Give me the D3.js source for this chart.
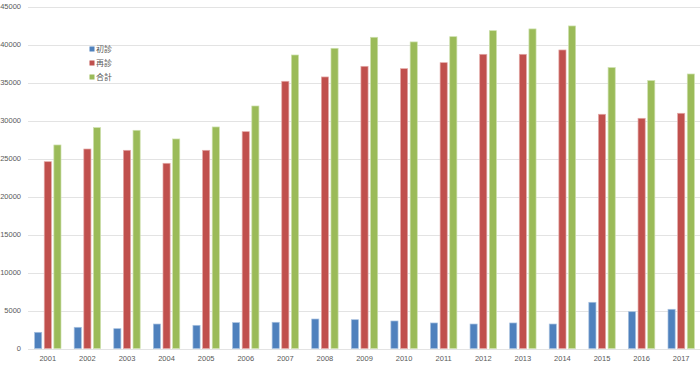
<!DOCTYPE html>
<html>
<head>
<meta charset="utf-8">
<script src="https://cdn.jsdelivr.net/npm/d3@7"></script>
<style>
html,body{margin:0;padding:0;background:#fff;}
svg{display:block;}
</style>
</head>
<body>
<svg id="chart" width="700" height="365"></svg>
<script>
const years = ["2001","2002","2003","2004","2005","2006","2007","2008","2009","2010","2011","2012","2013","2014","2015","2016","2017"];
const seriesNames = ["初診","再診","合計"];
const firstVisit = [2130,2790,2610,3220,3050,3400,3450,3880,3790,3620,3360,3220,3360,3220,6080,4840,5160];
const revisit = [24580,26250,26080,24370,26080,28530,35160,35730,37130,36820,37610,38710,38710,39280,30820,30290,30950];
const total = [26780,29060,28710,27570,29150,31910,38620,39500,40950,40340,41030,41820,42050,42440,36960,35250,36120];
const yTicks = [0,5000,10000,15000,20000,25000,30000,35000,40000,45000];
const colors = ["#4f81bd","#c0504d","#9bbb59"];
const strokes = ["#a7c0df","#e3a9a7","#cde0ad"];

const svg = d3.select("#chart");
const x = d3.scaleBand().domain(years).range([28, 701]).padding(0);
const y = d3.scaleLinear().domain([0, 45000]).range([348.5, 6.5]);
const inner = d3.scaleBand().domain(seriesNames).range([-13.2, 13.2]).paddingInner(0.26).paddingOuter(0);

// gridlines
svg.append("g").selectAll("line").data(yTicks).join("line")
  .attr("x1", 28).attr("x2", 701)
  .attr("y1", d => Math.round(y(d)) + 0.5).attr("y2", d => Math.round(y(d)) + 0.5)
  .attr("stroke", "#e3e3e3").attr("stroke-width", 1);

// y axis labels
svg.append("g").selectAll("text").data(yTicks).join("text")
  .attr("x", 21).attr("y", d => y(d))
  .attr("dy", "0.35em")
  .attr("text-anchor", "end")
  .attr("font-family", "'Liberation Sans', Arial, sans-serif")
  .attr("font-size", 7.5)
  .attr("fill", "#595959")
  .text(d => d);

// x labels
svg.append("g").selectAll("text").data(years).join("text")
  .attr("x", d => x(d) + x.bandwidth() / 2).attr("y", 361)
  .attr("text-anchor", "middle")
  .attr("font-family", "'Liberation Sans', Arial, sans-serif")
  .attr("font-size", 7.5)
  .attr("fill", "#595959")
  .text(d => d);

// bars
const data = [firstVisit, revisit, total];
data.forEach((vals, si) => {
  svg.append("g").selectAll("rect").data(vals).join("rect")
    .attr("x", (d, i) => x(years[i]) + x.bandwidth() / 2 + inner(seriesNames[si]))
    .attr("width", inner.bandwidth())
    .attr("y", d => y(d))
    .attr("height", d => y(0) - y(d))
    .attr("fill", colors[si])
    .attr("stroke", strokes[si])
    .attr("stroke-width", 0.7);
});

// legend
const leg = svg.append("g");
seriesNames.forEach((n, i) => {
  const cy = 49 + i * 14;
  leg.append("rect").attr("x", 89.5).attr("y", cy - 2.5).attr("width", 5).attr("height", 5).attr("fill", colors[i]);
  leg.append("text").attr("x", 96).attr("y", cy).attr("dy", "0.35em")
    .attr("font-family", "'Noto Sans CJK SC', sans-serif")
    .attr("font-size", 8)
    .attr("fill", "#595959")
    .text(n);
});
</script>
</body>
</html>
